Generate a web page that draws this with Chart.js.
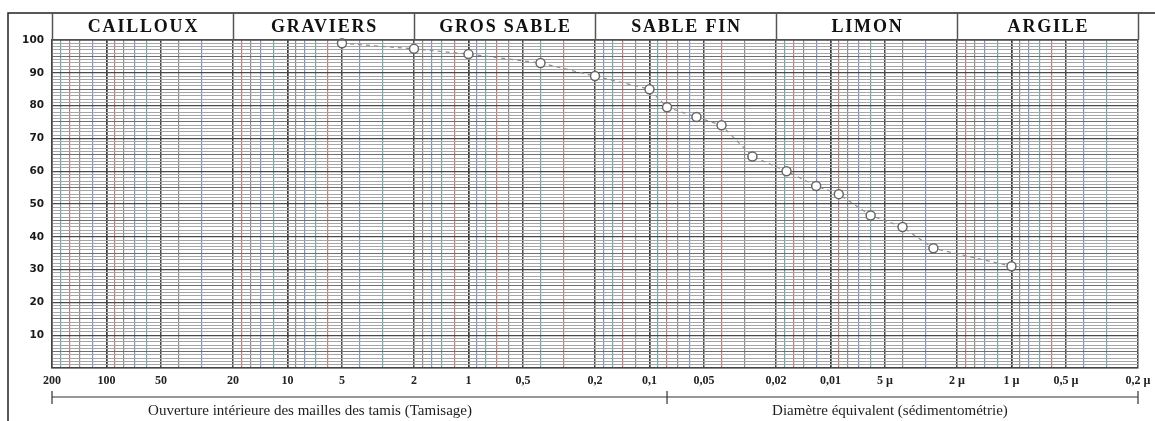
<!DOCTYPE html>
<html lang="fr">
<head>
<meta charset="utf-8">
<title>Courbe granulométrique</title>
<script src="https://cdn.jsdelivr.net/npm/chart.js@4.4.1/dist/chart.umd.min.js"></script>
<style>
  html, body { margin: 0; padding: 0; background: #fff; }
  canvas { display: block; }
</style>
</head>
<body>
<canvas id="granulo" width="1155" height="421"></canvas>
<script>
// Diamètres des grains (mm) et pourcentages cumulés de passants
const diametres = [5, 2, 1, 0.4, 0.2, 0.1, 0.08, 0.055, 0.04, 0.027, 0.0175, 0.012, 0.009, 0.006, 0.004, 0.0027, 0.001];
const passants  = [99, 97.3, 95.7, 93, 89, 85, 79.5, 76.5, 74, 64.5, 60, 55.5, 53, 46.5, 43, 36.5, 31];

// Classes granulométriques et leurs limites (mm)
const classes = ['CAILLOUX', 'GRAVIERS', 'GROS SABLE', 'SABLE FIN', 'LIMON', 'ARGILE'];
const limitesClasses = [200, 20, 2, 0.2, 0.02, 0.002, 0.0002];

// Graduations étiquetées de l'axe des diamètres
const graduations = [200, 100, 50, 20, 10, 5, 2, 1, 0.5, 0.2, 0.1, 0.05, 0.02, 0.01, 0.005, 0.002, 0.001, 0.0005, 0.0002];
const etiquettes  = ['200', '100', '50', '20', '10', '5', '2', '1', '0,5', '0,2', '0,1', '0,05', '0,02', '0,01', '5 µ', '2 µ', '1 µ', '0,5 µ', '0,2 µ'];

// Graduations étiquetées de l'axe des pourcentages
const pourcentages = [10, 20, 30, 40, 50, 60, 70, 80, 90, 100];

// Domaines de mesure sous l'axe
const methodes = ['Ouverture intérieure des mailles des tamis (Tamisage)', 'Diamètre équivalent (sédimentométrie)'];
const limiteTamisage = 0.08;

// Quadrillage logarithmique du papier : subdivisions de chaque décade
const subdivisions = [1, 1.2, 1.4, 1.6, 1.8, 2, 3, 4, 5, 6, 7, 8, 9];
const lignesX = [];
for (let e = -4; e <= 2; e++) {
  for (const m of subdivisions) {
    const v = +(m * Math.pow(10, e)).toPrecision(6);
    if (v >= 0.0002 && v <= 200) lignesX.push(v);
  }
}
const lignesY = [];
for (let p = 0; p <= 100; p++) lignesY.push(p);

const encres = ['#8c8c8c', '#c27a7a', '#6aaaa6', '#7d93c4'];
function styleX(v) {
  if (v === undefined) return { color: '#555', width: 1 };
  const e = Math.floor(Math.log10(v) + 1e-9);
  const m = Math.round(v / Math.pow(10, e) * 10) / 10;
  if (m === 1) return { color: '#3a3a3a', width: 1.7 };
  if (m === 2 || m === 5) return { color: '#4a4a4a', width: 1.5 };
  const i = subdivisions.indexOf(m);
  return { color: encres[(i + e + 8) % encres.length], width: 1.2 };
}
function styleY(v) {
  if (v === undefined) return { color: '#555', width: 1 };
  if (v % 10 === 0) return { color: '#4a4a4a', width: 1.3 };
  if (v % 5 === 0) return { color: '#707070', width: 1.1 };
  return { color: '#a6a6a6', width: 1 };
}
function etiquetteX(v) {
  const i = graduations.findIndex(g => Math.abs(g - v) / g < 1e-6);
  return i >= 0 ? etiquettes[i] : '';
}

// En-tête des classes, cadre et accolade des méthodes de mesure
const cadre = {
  id: 'cadre',
  afterDraw(chart) {
    const { ctx, chartArea: a, scales: { x } } = chart;
    const haut = 13;
    ctx.save();
    ctx.strokeStyle = '#222';
    ctx.lineWidth = 1.5;
    ctx.beginPath();
    ctx.moveTo(8, chart.height);
    ctx.lineTo(8, haut);
    ctx.lineTo(chart.width, haut);
    ctx.stroke();

    ctx.strokeStyle = '#555';
    ctx.lineWidth = 1.5;
    limitesClasses.forEach(v => {
      const px = Math.round(x.getPixelForValue(v)) + 0.5;
      ctx.beginPath();
      ctx.moveTo(px, haut);
      ctx.lineTo(px, a.top);
      ctx.stroke();
    });
    ctx.beginPath();
    ctx.moveTo(a.left, a.top);
    ctx.lineTo(a.right, a.top);
    ctx.stroke();

    ctx.fillStyle = '#111';
    ctx.font = 'bold 18px "Liberation Serif"';
    ctx.textAlign = 'center';
    ctx.textBaseline = 'middle';
    ctx.letterSpacing = '1.8px';
    classes.forEach((c, i) => {
      const x0 = x.getPixelForValue(limitesClasses[i]);
      const x1 = x.getPixelForValue(limitesClasses[i + 1]);
      ctx.fillText(c, (x0 + x1) / 2 + 1, (haut + a.top) / 2 + 1);
    });
    ctx.letterSpacing = '0px';

    const yb = 397;
    const xa = x.getPixelForValue(limitesClasses[0]);
    const xb = x.getPixelForValue(limitesClasses[limitesClasses.length - 1]);
    const xm = x.getPixelForValue(limiteTamisage);
    ctx.strokeStyle = '#333';
    ctx.lineWidth = 1.2;
    ctx.beginPath();
    ctx.moveTo(xa, yb);
    ctx.lineTo(xb, yb);
    [xa, xm, xb].forEach(px => {
      ctx.moveTo(px, yb - 6);
      ctx.lineTo(px, yb + 7);
    });
    ctx.stroke();

    ctx.font = '15px "Liberation Serif"';
    ctx.fillStyle = '#1e1e1e';
    const centres = [0.2376, 0.7716];
    methodes.forEach((t, i) => {
      ctx.fillText(t, xa + centres[i] * (xb - xa), 411);
    });
    ctx.restore();
  }
};

new Chart(document.getElementById('granulo'), {
  type: 'line',
  data: {
    datasets: [{
      data: diametres.map((d, i) => ({ x: d, y: passants[i] })),
      borderColor: '#8e8e8e',
      borderWidth: 1.2,
      borderDash: [4, 4],
      tension: 0,
      pointRadius: 4.5,
      pointBackgroundColor: '#ffffff',
      pointBorderColor: '#666',
      pointBorderWidth: 1.5,
      clip: false
    }]
  },
  options: {
    responsive: false,
    animation: false,
    devicePixelRatio: 1,
    layout: { padding: { top: 40, right: 17, bottom: 0, left: 0 } },
    plugins: { legend: { display: false }, tooltip: { enabled: false } },
    scales: {
      x: {
        type: 'logarithmic',
        reverse: true,
        min: 0.0002,
        max: 200,
        afterBuildTicks: s => { s.ticks = lignesX.map(v => ({ value: v })); },
        afterFit: s => { s.height = 53; },
        ticks: {
          autoSkip: false,
          maxRotation: 0,
          minRotation: 0,
          padding: 6,
          color: '#222',
          font: { family: '"Liberation Serif"', size: 12, weight: 'bold' },
          callback: v => etiquetteX(v)
        },
        grid: {
          drawTicks: false,
          color: c => styleX(c.tick && c.tick.value).color,
          lineWidth: c => styleX(c.tick && c.tick.value).width
        },
        border: { display: true, color: '#444', width: 1.4 }
      },
      y: {
        min: 0,
        max: 100,
        afterBuildTicks: s => { s.ticks = lignesY.map(v => ({ value: v })); },
        afterFit: s => { s.width = 52; },
        ticks: {
          autoSkip: false,
          padding: 8,
          color: '#1a1a1a',
          font: { family: '"DejaVu Sans"', size: 10.5, weight: 'bold' },
          callback: v => pourcentages.includes(v) ? String(v) : ''
        },
        grid: {
          drawTicks: false,
          color: c => styleY(c.tick && c.tick.value).color,
          lineWidth: c => styleY(c.tick && c.tick.value).width
        },
        border: { display: true, color: '#444', width: 1.5 }
      }
    }
  },
  plugins: [cadre]
});
</script>
</body>
</html>
